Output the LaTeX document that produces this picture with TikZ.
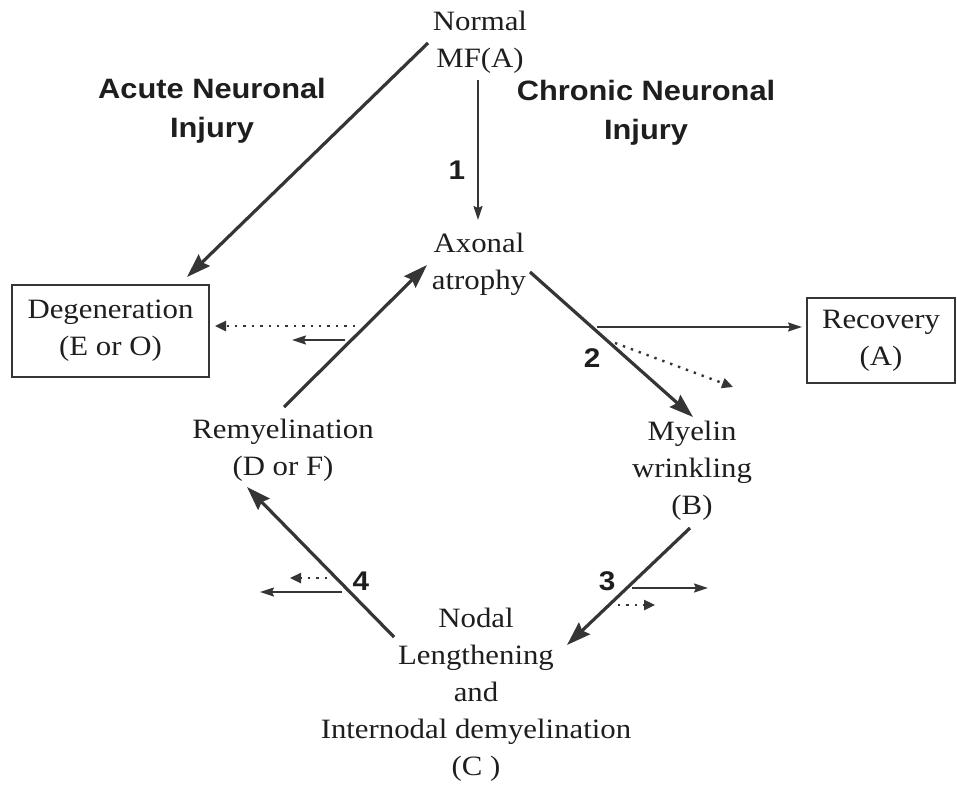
\documentclass[tikz,border=0pt]{standalone}
\usepackage{fontspec}
\setmainfont{Liberation Serif}[FakeStretch=1.1]
\newfontfamily\hsans{Liberation Sans}[FakeStretch=1.1]
\usetikzlibrary{arrows.meta}
\definecolor{ln}{HTML}{353535}
\definecolor{txt}{HTML}{1E1E1E}
\begin{document}
\begin{tikzpicture}[x=1pt,y=-1pt,
 every node/.style={inner sep=0pt, text=txt},
 lbl/.style={font=\fontsize{28}{37}\selectfont, align=center},
 hdr/.style={font=\hsans\bfseries\fontsize{28}{39}\selectfont, align=center},
 num/.style={font=\hsans\bfseries\fontsize{27}{30}\selectfont},
 boxed/.style={lbl, draw=ln, line width=1.6pt},
 thickarr/.style={draw=ln, line width=3.2pt, -{Stealth[length=24pt,width=16pt,inset=3pt]}},
 thinarr/.style={draw=ln, line width=1.6pt, -{Stealth[length=14pt,width=9pt,inset=2pt]}},
 dotarr/.style={draw=ln, line width=2.4pt, dash pattern=on 2.4pt off 6pt, -{Triangle[length=11pt,width=10pt]}},
]
\fill[white] (0,0) rectangle (957,784);
\useasboundingbox (0,0) rectangle (957,784);

% text nodes
\node[lbl] (normal) at (480,42) {Normal\\MF(A)};
\node[hdr] (acute) at (212,111) {Acute Neuronal\\Injury};
\node[hdr] (chronic) at (646,113) {Chronic Neuronal\\Injury};
\node[lbl] (axonal) at (479,264) {Axonal\\atrophy};
\node[boxed, minimum width=197pt, minimum height=92pt] (degen) at (110.5,331) {Degeneration\\(E or O)};
\node[boxed, minimum width=148pt, minimum height=85pt] (recov) at (881,340.5) {Recovery\\(A)};
\node[lbl] (remyel) at (283,450) {Remyelination\\(D or F)};
\node[lbl] (myelin) at (692,471) {Myelin\\wrinkling\\(B)};
\node[lbl] (nodal) at (476,695) {Nodal\\Lengthening\\and\\Internodal demyelination\\(C )};

% step numbers
\node[num] (n1) at (457,170) {1};
\node[num] (n2) at (592,358) {2};
\node[num] (n3) at (607,581) {3};
\node[num] (n4) at (361,581) {4};

% connector end points
\coordinate (acS) at (428,43);
\coordinate (acE) at (187,277);
\coordinate (oneS) at (478,80);
\coordinate (oneE) at (478,220);
\coordinate (twoS) at (530,272);
\coordinate (twoE) at (693,417);
\coordinate (thrS) at (690,528);
\coordinate (thrE) at (567,645);
\coordinate (fouS) at (394,637);
\coordinate (fouE) at (247,487);
\coordinate (remS) at (284,407);
\coordinate (remE) at (427,265);

\coordinate (dgDotS) at (355,326);
\coordinate (dgDotE) at (215,326);
\coordinate (dgThS) at (345,340);
\coordinate (dgThE) at (292,340);

\coordinate (rcThS) at (597,327);
\coordinate (rcThE) at (802,327);
\coordinate (rcDotS) at (615,343);
\coordinate (rcDotE) at (733,387);

\coordinate (t3ThS) at (632,588);
\coordinate (t3ThE) at (708,588);
\coordinate (t3DotS) at (618,605);
\coordinate (t3DotE) at (655,605);

\coordinate (t4ThS) at (342,592);
\coordinate (t4ThE) at (260,592);
\coordinate (t4DotS) at (327,578);
\coordinate (t4DotE) at (290,578);

% main arrows
\draw[thickarr] (acS) -- (acE);
\draw[thinarr] (oneS) -- (oneE);
\draw[thickarr] (twoS) -- (twoE);
\draw[thickarr] (thrS) -- (thrE);
\draw[thickarr] (fouS) -- (fouE);
\draw[thickarr] (remS) -- (remE);

% side arrows
\draw[dotarr] (dgDotS) -- (dgDotE);
\draw[thinarr] (dgThS) -- (dgThE);
\draw[thinarr] (rcThS) -- (rcThE);
\draw[dotarr] (rcDotS) -- (rcDotE);
\draw[thinarr] (t3ThS) -- (t3ThE);
\draw[dotarr] (t3DotS) -- (t3DotE);
\draw[thinarr] (t4ThS) -- (t4ThE);
\draw[dotarr] (t4DotS) -- (t4DotE);
\end{tikzpicture}
\end{document}
